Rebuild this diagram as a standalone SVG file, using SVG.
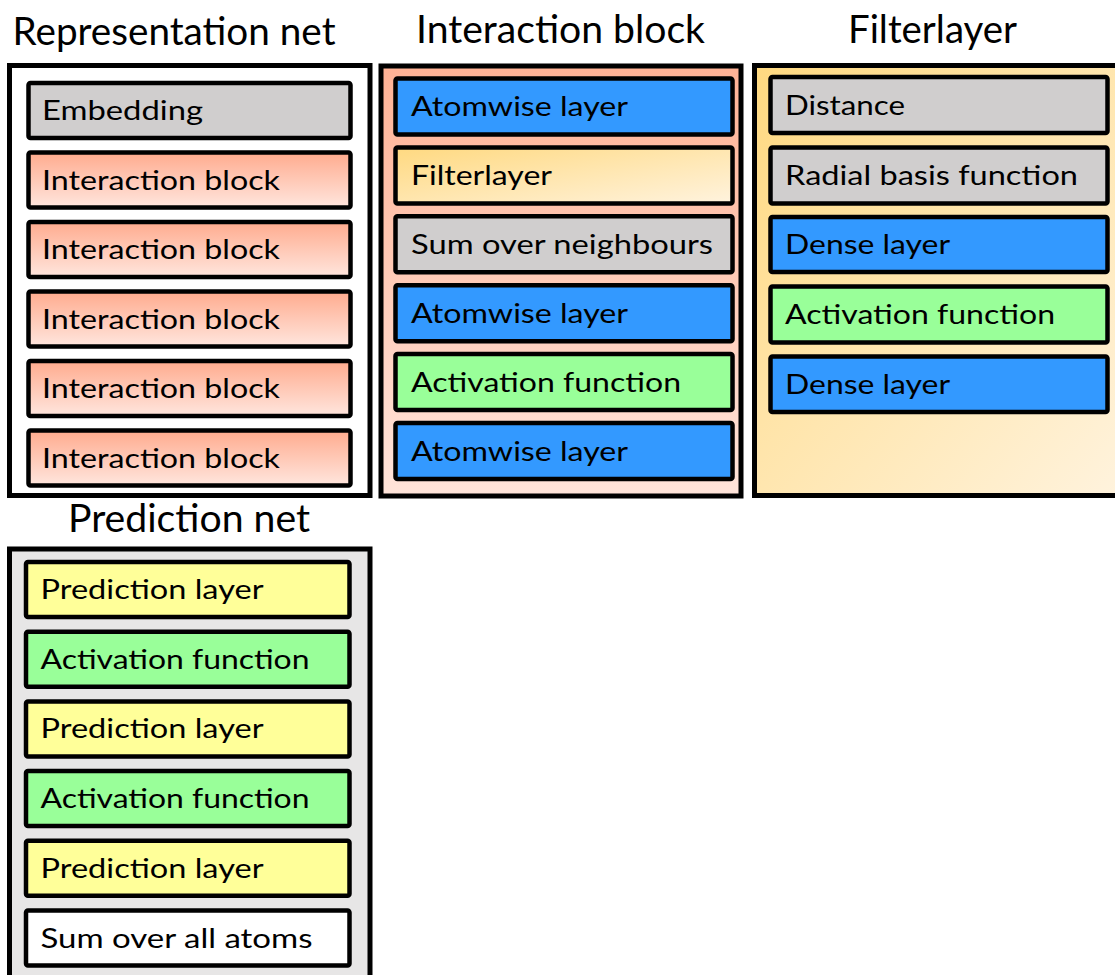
<svg xmlns="http://www.w3.org/2000/svg" width="1115" height="975" viewBox="0 0 1115 975">
<defs>
<linearGradient id="gInt" x1="0" y1="0" x2="0" y2="1">
<stop offset="0" stop-color="#FFAB8E"/>
<stop offset="1" stop-color="#FFE6DE"/>
</linearGradient>
<linearGradient id="gIntCol" x1="0" y1="0" x2="0" y2="1">
<stop offset="0" stop-color="#FFB295"/>
<stop offset="1" stop-color="#FFE4DA"/>
</linearGradient>
<linearGradient id="gFilt" x1="0" y1="0" x2="1" y2="1">
<stop offset="0" stop-color="#FFD980"/>
<stop offset="1" stop-color="#FFF3DE"/>
</linearGradient>
</defs>
<style>
.outer{stroke:#000;stroke-width:5}
.box{stroke:#000;stroke-width:4.5}
.t{font-family:Lato,"Liberation Sans",sans-serif;font-size:27px;fill:#000}
.h{font-family:Lato,"Liberation Sans",sans-serif;font-size:38px;fill:#000}
.gray{fill:#D0CECE}
.blue{fill:#3399FF}
.green{fill:#99FF99}
.yellow{fill:#FFFF99}
.white{fill:#FFFFFF}
</style>
<rect width="1115" height="975" fill="#FFFFFF"/>

<g id="representation-net">
<text class="h" x="12.5" y="45" textLength="323" lengthAdjust="spacingAndGlyphs">Representation net</text>
<rect class="outer" x="9.5" y="65.5" width="360.5" height="430" fill="#FFFFFF"/>
<g id="rep-embedding"><rect class="box gray" x="28.5" y="83" width="322" height="55" rx="2"/><text class="t" x="42" y="120" textLength="161" lengthAdjust="spacingAndGlyphs">Embedding</text></g>
<g id="rep-int1"><rect class="box" fill="url(#gInt)" x="28.5" y="152.5" width="322" height="55" rx="2"/><text class="t" x="42" y="189.5" textLength="238" lengthAdjust="spacingAndGlyphs">Interaction block</text></g>
<g id="rep-int2"><rect class="box" fill="url(#gInt)" x="28.5" y="222" width="322" height="55" rx="2"/><text class="t" x="42" y="259" textLength="238" lengthAdjust="spacingAndGlyphs">Interaction block</text></g>
<g id="rep-int3"><rect class="box" fill="url(#gInt)" x="28.5" y="291.5" width="322" height="55" rx="2"/><text class="t" x="42" y="328.5" textLength="238" lengthAdjust="spacingAndGlyphs">Interaction block</text></g>
<g id="rep-int4"><rect class="box" fill="url(#gInt)" x="28.5" y="361" width="322" height="55" rx="2"/><text class="t" x="42" y="398" textLength="238" lengthAdjust="spacingAndGlyphs">Interaction block</text></g>
<g id="rep-int5"><rect class="box" fill="url(#gInt)" x="28.5" y="430.5" width="322" height="55" rx="2"/><text class="t" x="42" y="467.5" textLength="238" lengthAdjust="spacingAndGlyphs">Interaction block</text></g>
</g>

<g id="interaction-block">
<text class="h" x="416" y="43" textLength="289" lengthAdjust="spacingAndGlyphs">Interaction block</text>
<rect class="outer" x="381" y="66" width="360" height="430" fill="url(#gIntCol)"/>
<g id="ib-atom1"><rect class="box blue" x="395.5" y="78.5" width="337" height="56" rx="2"/><text class="t" x="411" y="116" textLength="217" lengthAdjust="spacingAndGlyphs">Atomwise layer</text></g>
<g id="ib-filter"><rect class="box" fill="url(#gFilt)" x="395.5" y="147.4" width="337" height="56" rx="2"/><text class="t" x="411" y="185" textLength="141" lengthAdjust="spacingAndGlyphs">Filterlayer</text></g>
<g id="ib-sum"><rect class="box gray" x="395.5" y="216.3" width="337" height="56" rx="2"/><text class="t" x="411" y="254" textLength="302" lengthAdjust="spacingAndGlyphs">Sum over neighbours</text></g>
<g id="ib-atom2"><rect class="box blue" x="395.5" y="285.2" width="337" height="56" rx="2"/><text class="t" x="411" y="323" textLength="217" lengthAdjust="spacingAndGlyphs">Atomwise layer</text></g>
<g id="ib-act"><rect class="box green" x="395.5" y="354.1" width="337" height="56" rx="2"/><text class="t" x="411" y="392" textLength="270" lengthAdjust="spacingAndGlyphs">Activation function</text></g>
<g id="ib-atom3"><rect class="box blue" x="395.5" y="423" width="337" height="56" rx="2"/><text class="t" x="411" y="460.5" textLength="217" lengthAdjust="spacingAndGlyphs">Atomwise layer</text></g>
</g>

<g id="filterlayer">
<text class="h" x="848" y="43" textLength="169" lengthAdjust="spacingAndGlyphs">Filterlayer</text>
<rect class="outer" x="754.5" y="65.5" width="370" height="430" fill="url(#gFilt)"/>
<g id="fl-dist"><rect class="box gray" x="770.5" y="77" width="337" height="56" rx="2"/><text class="t" x="785" y="114.5" textLength="120" lengthAdjust="spacingAndGlyphs">Distance</text></g>
<g id="fl-rbf"><rect class="box gray" x="770.5" y="147.5" width="337" height="56" rx="2"/><text class="t" x="785" y="185" textLength="293" lengthAdjust="spacingAndGlyphs">Radial basis function</text></g>
<g id="fl-dense1"><rect class="box blue" x="770.5" y="217" width="337" height="55" rx="2"/><text class="t" x="785" y="254" textLength="165" lengthAdjust="spacingAndGlyphs">Dense layer</text></g>
<g id="fl-act"><rect class="box green" x="770.5" y="286.5" width="337" height="56" rx="2"/><text class="t" x="785" y="324" textLength="270" lengthAdjust="spacingAndGlyphs">Activation function</text></g>
<g id="fl-dense2"><rect class="box blue" x="770.5" y="356.5" width="337" height="55.5" rx="2"/><text class="t" x="785" y="394" textLength="165" lengthAdjust="spacingAndGlyphs">Dense layer</text></g>
</g>

<g id="prediction-net">
<text class="h" x="68" y="532" textLength="242" lengthAdjust="spacingAndGlyphs">Prediction net</text>
<rect class="outer" x="9.5" y="549" width="360.5" height="440" fill="#E7E6E6"/>
<g id="pn-pred1"><rect class="box yellow" x="26" y="562" width="323.5" height="55" rx="2"/><text class="t" x="40.5" y="599" textLength="223" lengthAdjust="spacingAndGlyphs">Prediction layer</text></g>
<g id="pn-act1"><rect class="box green" x="26" y="631.7" width="323.5" height="55" rx="2"/><text class="t" x="40.5" y="668.7" textLength="269" lengthAdjust="spacingAndGlyphs">Activation function</text></g>
<g id="pn-pred2"><rect class="box yellow" x="26" y="701.4" width="323.5" height="55" rx="2"/><text class="t" x="40.5" y="738.4" textLength="223" lengthAdjust="spacingAndGlyphs">Prediction layer</text></g>
<g id="pn-act2"><rect class="box green" x="26" y="771.1" width="323.5" height="55" rx="2"/><text class="t" x="40.5" y="808.1" textLength="269" lengthAdjust="spacingAndGlyphs">Activation function</text></g>
<g id="pn-pred3"><rect class="box yellow" x="26" y="840.8" width="323.5" height="55" rx="2"/><text class="t" x="40.5" y="877.8" textLength="223" lengthAdjust="spacingAndGlyphs">Prediction layer</text></g>
<g id="pn-sum"><rect class="box white" x="26" y="910.5" width="323.5" height="55" rx="2"/><text class="t" x="40.5" y="947.5" textLength="272" lengthAdjust="spacingAndGlyphs">Sum over all atoms</text></g>
</g>

<g id="connectors"/>
</svg>
